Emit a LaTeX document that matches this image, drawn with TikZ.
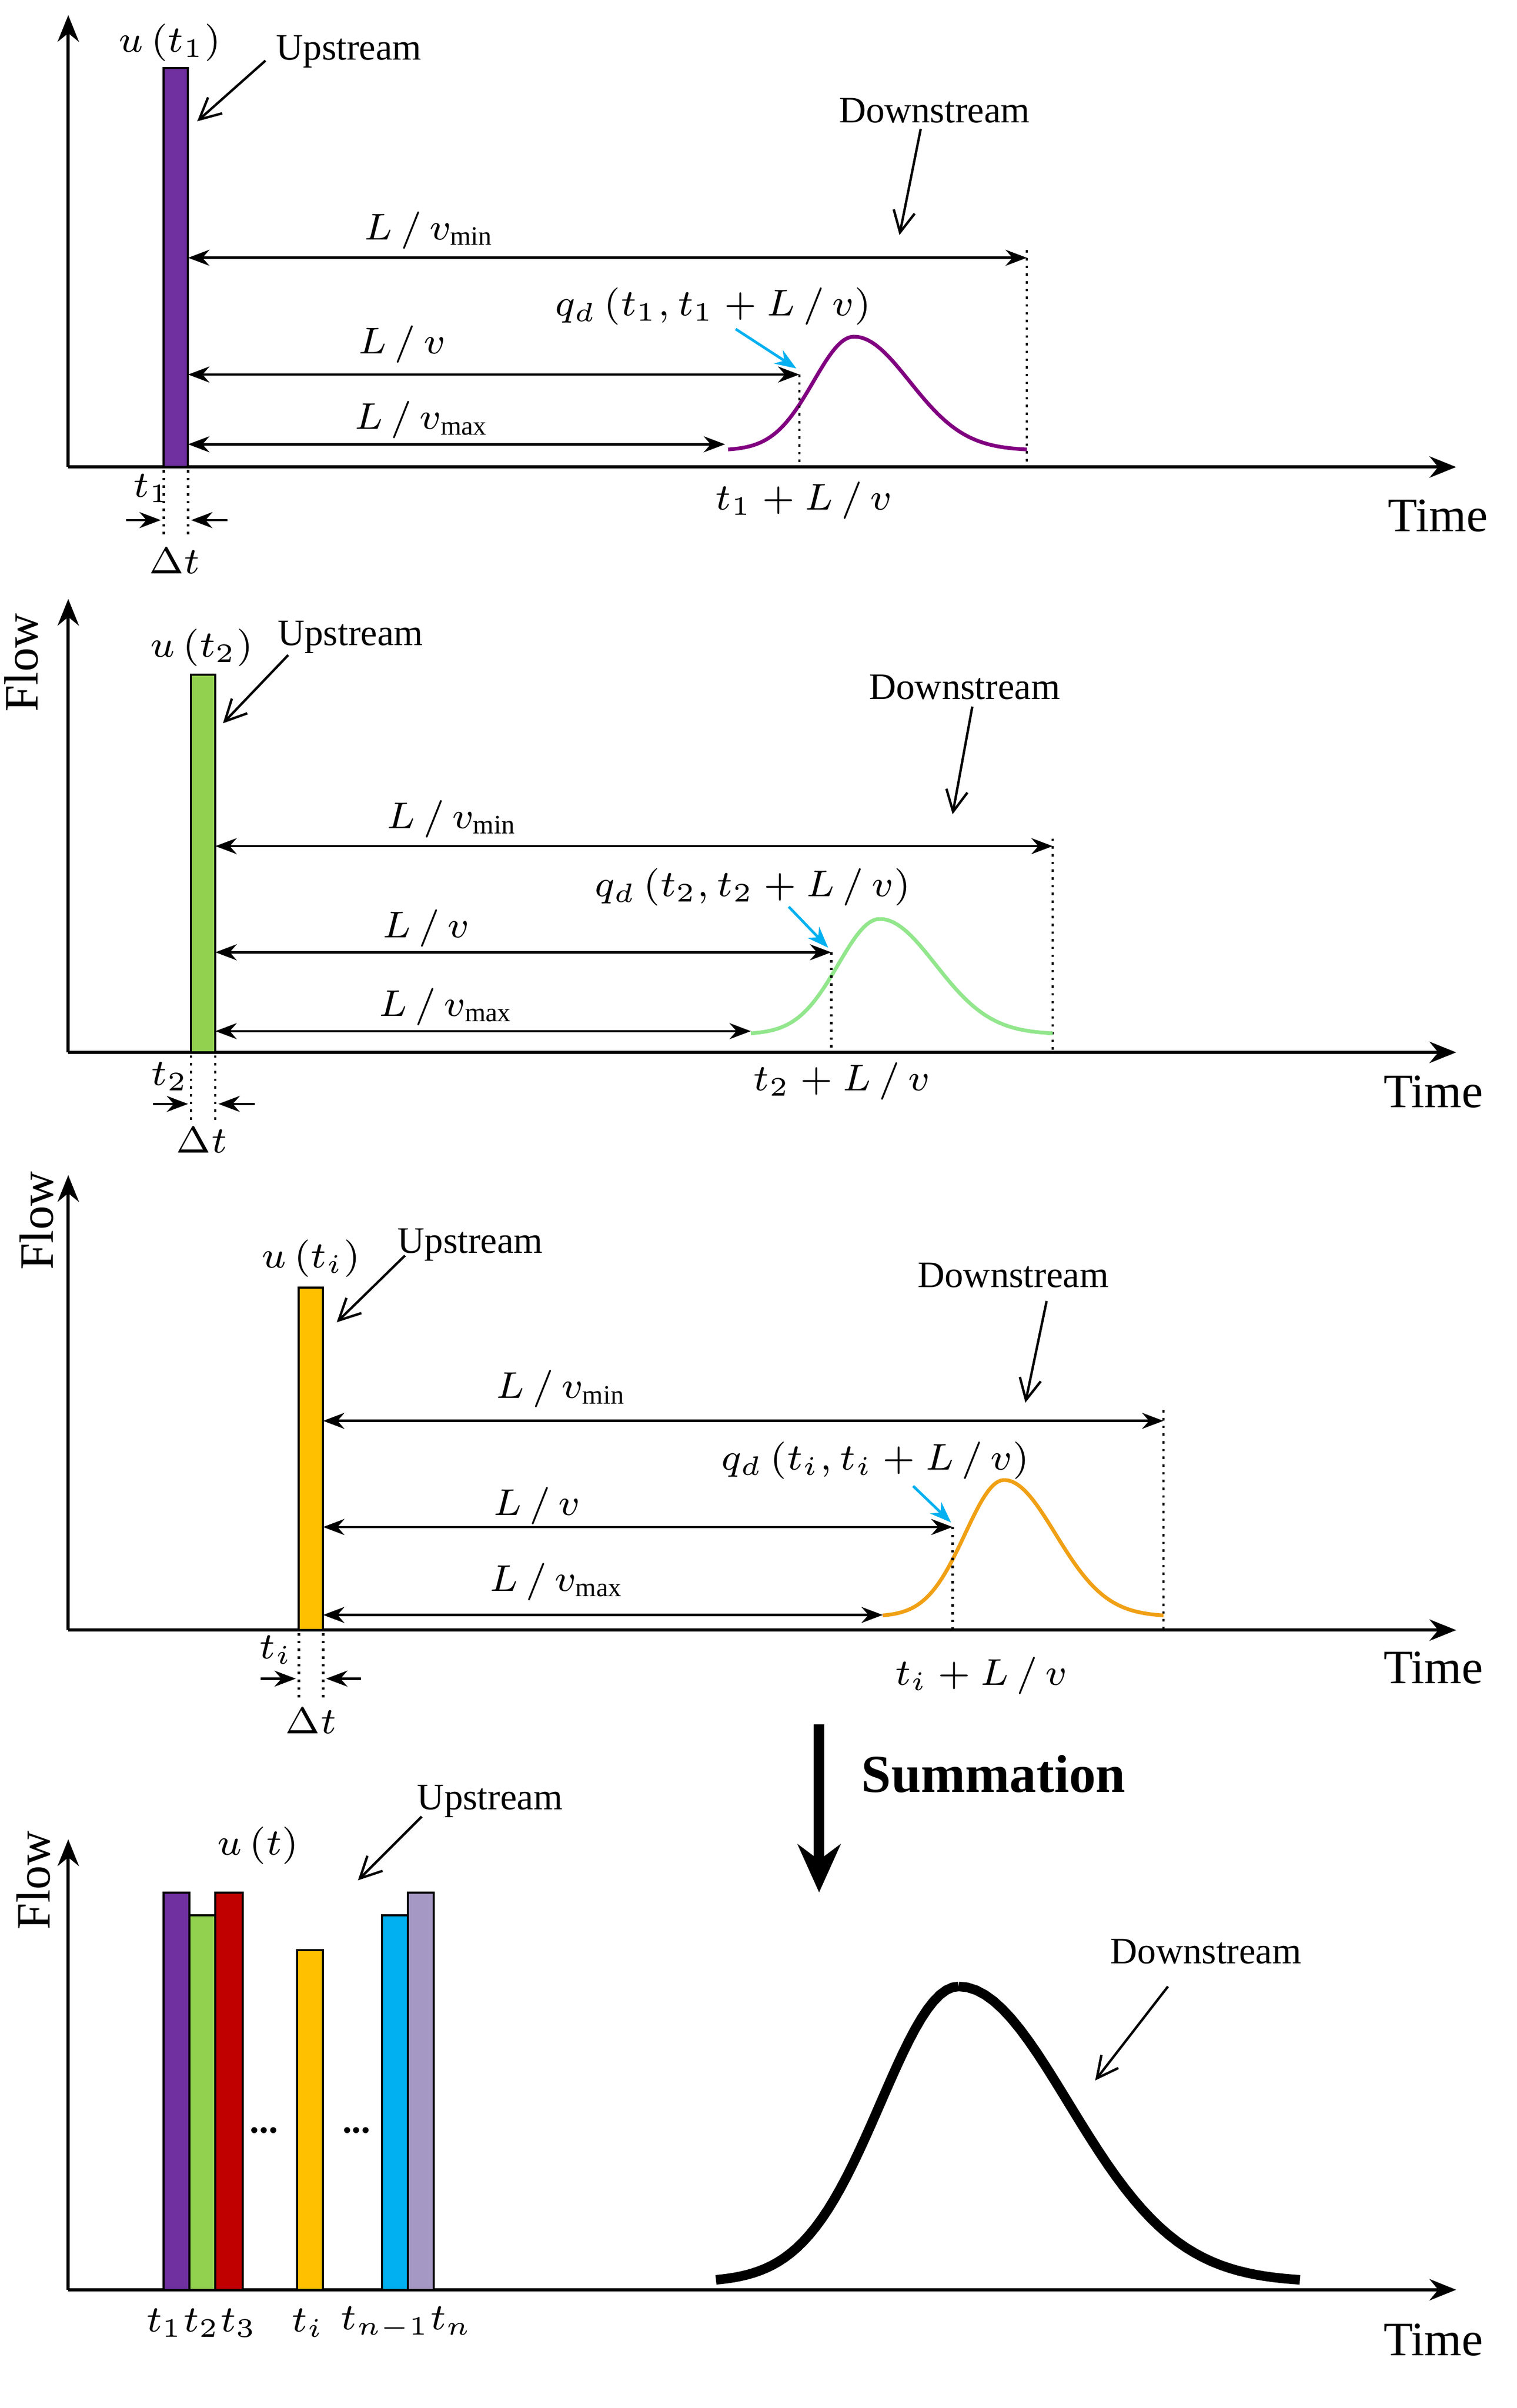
\documentclass[tikz,border=0pt]{standalone}
\usepackage{fontspec}
\setmainfont{Liberation Serif}
\usetikzlibrary{arrows.meta}
\definecolor{cpur}{RGB}{112,48,160}
\definecolor{cgrn}{RGB}{146,208,80}
\definecolor{corg}{RGB}{255,192,0}
\definecolor{cred}{RGB}{192,0,0}
\definecolor{ccyn}{RGB}{0,176,240}
\definecolor{clav}{RGB}{166,152,196}
\definecolor{cpurc}{RGB}{128,0,128}
\definecolor{cgrnc}{RGB}{146,230,140}
\definecolor{corgc}{RGB}{240,160,20}
\newcommand\gcurve[7]{% color,x0,peakx,x1,base,peaky,lw
  \draw[#1,line width=#7] plot[domain=#2:#3,samples=40] (\x,{#5-(#5-#6)*exp(-((\x-#3)/((#3-#2)/2.2))^2)});
  \draw[#1,line width=#7] plot[domain=#3:#4,samples=40] (\x,{#5-(#5-#6)*exp(-((\x-#3)/((#4-#3)/2.2))^2)});}
\begin{document}
\begin{tikzpicture}[x=0.01cm,y=-0.01cm,
  every node/.style={font=\fontsize{7}{8}\selectfont},
  ax/.style={line width=0.6pt,-{Stealth[length=5pt,width=4pt]}},
  ar/.style={line width=0.45pt,-{Stealth[length=4pt,width=3pt]}},
  dar/.style={line width=0.45pt,{Stealth[length=4pt,width=3pt]}-{Stealth[length=4pt,width=3pt]}},
  sar/.style={line width=0.45pt,-{Straight Barb[length=4pt,width=4pt]}},
  car/.style={ccyn,line width=0.5pt,-{Stealth[length=4pt,width=3pt]}},
  dsh/.style={line width=0.45pt,densely dotted},
  bar/.style={draw=black,line width=0.4pt},
  tm/.style={font=\fontsize{9}{10}\selectfont},
  fl/.style={font=\fontsize{9}{10}\selectfont,rotate=90}]
\useasboundingbox (0,0) rectangle (1000,1588);
% ---------------- Panel 1
\coordinate (o1) at (45,308);
\draw[ax] (o1) -- (45,10);
\draw[ax] (o1) -- (960,308);
\filldraw[bar,fill=cpur] (108,45) rectangle (124,308);
\node (u1) at (112,28) {$u\left(t_1\right)$};
\node (up1) at (230,34) {Upstream};
\draw[sar] (175,40) -- (130,80);
\node (dn1) at (616,73) {Downstream};
\draw[sar] (607,85) -- (593,155);
\draw[dar] (124,170) -- (677,170);
\node at (283,152) {$L\,/\,v_{\min}$};
\draw[dsh] (677,165) -- (677,308);
\draw[dar] (124,247) -- (527,247);
\node at (265,227) {$L\,/\,v$};
\draw[dar] (124,293) -- (478,293);
\node at (278,277) {$L\,/\,v_{\max}$};
\gcurve{cpurc}{480}{563}{677}{297}{222}{0.7pt}
\draw[dsh] (527,247) -- (527,308);
\node at (470,202) {$q_d\left(t_1,t_1+L\,/\,v\right)$};
\draw[car] (485,217) -- (525,243);
\node at (530,330) {$t_1+L\,/\,v$};
\node at (100,322) {$t_1$};
\node at (115,370) {$\Delta t$};
\draw[dsh] (108,310) -- (108,355);
\draw[dsh] (124,310) -- (124,355);
\draw[ar] (83,343) -- (106,343);
\draw[ar] (150,343) -- (126,343);
\node[tm] at (948,340) {Time};
% ---------------- Panel 2
\draw[ax] (45,694) -- (45,395);
\draw[ax] (45,694) -- (960,694);
\node[fl] at (14,437) {Flow};
\filldraw[bar,fill=cgrn] (126,445) rectangle (142,694);
\node at (133,427) {$u\left(t_2\right)$};
\node at (231,420) {Upstream};
\draw[sar] (190,432) -- (147,477);
\node at (636,453) {Downstream};
\draw[sar] (641,466) -- (628,537);
\draw[dar] (142,558) -- (694,558);
\node at (298,540) {$L\,/\,v_{\min}$};
\draw[dsh] (694,553) -- (694,694);
\draw[dar] (142,628) -- (548,628);
\node at (281,612) {$L\,/\,v$};
\draw[dar] (142,680) -- (495,680);
\node at (294,664) {$L\,/\,v_{\max}$};
\gcurve{cgrnc}{495}{580}{694}{682}{606}{0.7pt}
\draw[dsh] (548,628) -- (548,694);
\node at (496,585) {$q_d\left(t_2,t_2+L\,/\,v\right)$};
\draw[car] (520,598) -- (546,625);
\node at (555,713) {$t_2+L\,/\,v$};
\node at (112,710) {$t_2$};
\node at (133,752) {$\Delta t$};
\draw[dsh] (126,696) -- (126,740);
\draw[dsh] (142,696) -- (142,740);
\draw[ar] (101,728) -- (124,728);
\draw[ar] (168,728) -- (144,728);
\node[tm] at (945,720) {Time};
% ---------------- Panel 3
\draw[ax] (45,1075) -- (45,775);
\draw[ax] (45,1075) -- (960,1075);
\node[fl] at (24,805) {Flow};
\filldraw[bar,fill=corg] (197,849) rectangle (213,1075);
\node at (205,830) {$u\left(t_i\right)$};
\node at (310,821) {Upstream};
\draw[sar] (267,828) -- (222,872);
\node at (668,841) {Downstream};
\draw[sar] (690,858) -- (676,925);
\draw[dar] (213,937) -- (767,937);
\node at (370,916) {$L\,/\,v_{\min}$};
\draw[dsh] (767,930) -- (767,1075);
\draw[dar] (213,1007) -- (628,1007);
\node at (354,993) {$L\,/\,v$};
\draw[dar] (213,1065) -- (582,1065);
\node at (367,1043) {$L\,/\,v_{\max}$};
\gcurve{corgc}{582}{662}{767}{1066}{976}{0.7pt}
\draw[dsh] (628,1007) -- (628,1075);
\node at (577,963) {$q_d\left(t_i,t_i+L\,/\,v\right)$};
\draw[car] (602,980) -- (627,1004);
\node at (647,1105) {$t_i+L\,/\,v$};
\node at (182,1088) {$t_i$};
\node at (205,1135) {$\Delta t$};
\draw[dsh] (197,1077) -- (197,1120);
\draw[dsh] (213,1077) -- (213,1120);
\draw[ar] (172,1107) -- (195,1107);
\draw[ar] (238,1107) -- (215,1107);
\node[tm] at (945,1100) {Time};
% ---------------- Summation
\draw[line width=2pt,-{Stealth[length=9pt,width=8pt]}] (540,1137) -- (540,1248);
\node[font=\fontsize{10}{12}\selectfont\bfseries] at (655,1170) {Summation};
% ---------------- Panel 4
\draw[ax] (45,1510) -- (45,1213);
\draw[ax] (45,1510) -- (960,1510);
\node[fl] at (22,1240) {Flow};
\filldraw[bar,fill=cpur] (108,1248) rectangle (125,1510);
\filldraw[bar,fill=cgrn] (125,1263) rectangle (142,1510);
\filldraw[bar,fill=cred] (142,1248) rectangle (160,1510);
\filldraw[bar,fill=corg] (196,1286) rectangle (213,1510);
\filldraw[bar,fill=ccyn] (252,1263) rectangle (269,1510);
\filldraw[bar,fill=clav] (269,1248) rectangle (286,1510);
\node[inner sep=0pt] (d1) at (174,1405) {\bfseries ...};
\node[inner sep=0pt] (d2) at (235,1405) {\bfseries ...};
\node at (170,1217) {$u\left(t\right)$};
\node at (323,1188) {Upstream};
\draw[sar] (278,1198) -- (236,1240);
\node at (795,1287) {Downstream};
\draw[sar] (770,1310) -- (722,1372);
\gcurve{black}{472}{632}{857}{1505}{1310}{1.8pt}
\node at (133,1532) {$t_1t_2t_3$};
\node at (203,1532) {$t_i$};
\node at (268,1532) {$t_{n-1}t_n$};
\node[tm] at (945,1543) {Time};
\end{tikzpicture}
\end{document}
